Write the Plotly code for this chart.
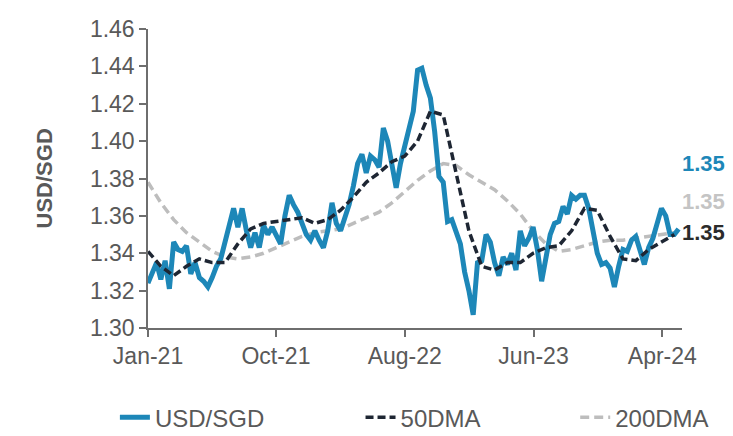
import pandas as pd
import plotly.graph_objects as go

# ---------------- data ----------------
usd_start = "2021-01-01"          # USD/SGD sampled every 10 days
usd_sgd = [
    1.324, 1.330, 1.335, 1.326, 1.336, 1.321, 1.346, 1.342, 1.341, 1.344,
    1.329, 1.335, 1.327, 1.325, 1.322, 1.327, 1.333, 1.337, 1.346, 1.355,
    1.364, 1.354, 1.364, 1.352, 1.343, 1.351, 1.343, 1.355, 1.350, 1.354,
    1.349, 1.345, 1.360, 1.371, 1.366, 1.362, 1.356, 1.350, 1.347, 1.352,
    1.347, 1.343, 1.352, 1.367, 1.356, 1.352, 1.359, 1.366, 1.376, 1.388,
    1.393, 1.383, 1.392, 1.390, 1.386, 1.407, 1.400, 1.387, 1.375, 1.388,
    1.397, 1.405, 1.416, 1.438, 1.439, 1.430, 1.423, 1.405, 1.381, 1.378,
    1.357, 1.358, 1.351, 1.345, 1.330, 1.320, 1.307, 1.335, 1.336, 1.350,
    1.346, 1.335, 1.328, 1.338, 1.334, 1.340, 1.331, 1.352, 1.344, 1.348,
    1.354, 1.342, 1.325, 1.336, 1.350, 1.356, 1.357, 1.365, 1.361, 1.371,
    1.369, 1.371, 1.371, 1.364, 1.350, 1.340, 1.334, 1.335, 1.332, 1.322,
    1.333, 1.342, 1.341, 1.347, 1.349, 1.341, 1.334, 1.343, 1.348, 1.356,
    1.364, 1.360, 1.350, 1.350, 1.353,
]

dma_start = "2021-01-01"          # moving averages sampled every 30 days
dma50 = [
    1.341, 1.333, 1.328, 1.333, 1.337, 1.335, 1.335, 1.345, 1.353, 1.356,
    1.357, 1.358, 1.359, 1.356, 1.358, 1.363, 1.370, 1.378, 1.383, 1.389,
    1.392, 1.400, 1.416, 1.414, 1.384, 1.352, 1.333, 1.331, 1.335, 1.335,
    1.340, 1.343, 1.344, 1.352, 1.364, 1.363, 1.349, 1.337, 1.336, 1.342,
    1.346, 1.350,
]
dma200 = [
    1.378, 1.367, 1.358, 1.351, 1.346, 1.341, 1.338, 1.337, 1.338, 1.340,
    1.343, 1.346, 1.349, 1.351, 1.352, 1.353, 1.356, 1.359, 1.362, 1.367,
    1.373, 1.379, 1.384, 1.388, 1.387, 1.382, 1.378, 1.374, 1.368, 1.361,
    1.352, 1.345, 1.341, 1.342, 1.344, 1.346, 1.347, 1.347, 1.348, 1.349,
    1.350, 1.351,
]

tick_dates = ["2021-01-01", "2021-10-27", "2022-08-24", "2023-06-21", "2024-04-17"]
tick_labels = ["Jan-21", "Oct-21", "Aug-22", "Jun-23", "Apr-24"]
x_range = ["2021-01-01", "2024-06-02"]
y_ticks = [1.30, 1.32, 1.34, 1.36, 1.38, 1.40, 1.42, 1.44, 1.46]

# ---------------- styling ----------------
C_BLUE = "#1d87b8"
C_DARK = "#1e2633"
C_GREY = "#bdbdbd"
C_TEXT = "#595959"
C_AXIS = "#6e6e6e"
FONT = "Liberation Sans, Arial, sans-serif"

usd_x = pd.date_range(usd_start, periods=len(usd_sgd), freq="10D")
dma_x = pd.date_range(dma_start, periods=len(dma50), freq="30D")

fig = go.Figure()
fig.add_trace(go.Scatter(
    x=dma_x, y=dma200, name="200DMA", mode="lines", legend="legend3",
    line=dict(color=C_GREY, width=3.5, dash="9px,5px")))
fig.add_trace(go.Scatter(
    x=usd_x, y=usd_sgd, name="USD/SGD", mode="lines", legend="legend",
    line=dict(color=C_BLUE, width=5)))
fig.add_trace(go.Scatter(
    x=dma_x, y=dma50, name="50DMA", mode="lines", legend="legend2",
    line=dict(color=C_DARK, width=3.5, dash="8px,4px")))

# end-value labels at the right
end_labels = [
    (usd_sgd[-1], C_BLUE, 1.388),
    (dma200[-1], "#c4c4c4", 1.3675),
    (dma50[-1], "#2b2b2b", 1.351),
]
for val, col, ypos in end_labels:
    fig.add_annotation(
        x=1.0, xref="paper", y=ypos, yref="y", text=f"{val:.2f}",
        showarrow=False, xanchor="left", yanchor="middle", xshift=-2,
        font=dict(family=FONT, size=22, color=col, weight="bold"))

# y-axis title
fig.add_annotation(
    x=-0.193, xref="paper", y=0.5, yref="paper", text="USD/SGD",
    textangle=-90, showarrow=False, xanchor="center", yanchor="middle",
    font=dict(family=FONT, size=22, color=C_TEXT, weight="bold"))

leg_common = dict(
    orientation="h", xanchor="left", y=-0.30, yanchor="middle",
    font=dict(family=FONT, size=24, color=C_TEXT),
    bgcolor="rgba(0,0,0,0)")

# the page body adds an 8px offset, so the figure is 8px smaller
fig.update_layout(
    width=725, height=428,
    margin=dict(l=140, r=51, t=21, b=108, autoexpand=False),
    paper_bgcolor="white", plot_bgcolor="white",
    font=dict(family=FONT, size=23, color=C_TEXT),
    showlegend=True,
    legend=dict(x=-0.062, **leg_common),
    legend2=dict(x=0.398, **leg_common),
    legend3=dict(x=0.800, **leg_common),
    xaxis=dict(
        type="date", range=x_range, tickmode="array",
        tickvals=tick_dates, ticktext=tick_labels, automargin=False,
        showgrid=False, zeroline=False, showline=True, linecolor=C_AXIS,
        linewidth=1.5, ticks="outside", ticklen=7, tickcolor=C_AXIS,
        tickwidth=1.5, tickfont=dict(family=FONT, size=23, color=C_TEXT)),
    yaxis=dict(
        range=[1.30, 1.46], tickmode="array", tickvals=y_ticks,
        tickformat=".2f", showgrid=False, zeroline=False, showline=True,
        automargin=False,
        linecolor=C_AXIS, linewidth=1.5, ticks="outside", ticklen=7,
        tickcolor=C_AXIS, tickwidth=1.5,
        tickfont=dict(family=FONT, size=23, color=C_TEXT)),
)

fig.write_html("out.html")
